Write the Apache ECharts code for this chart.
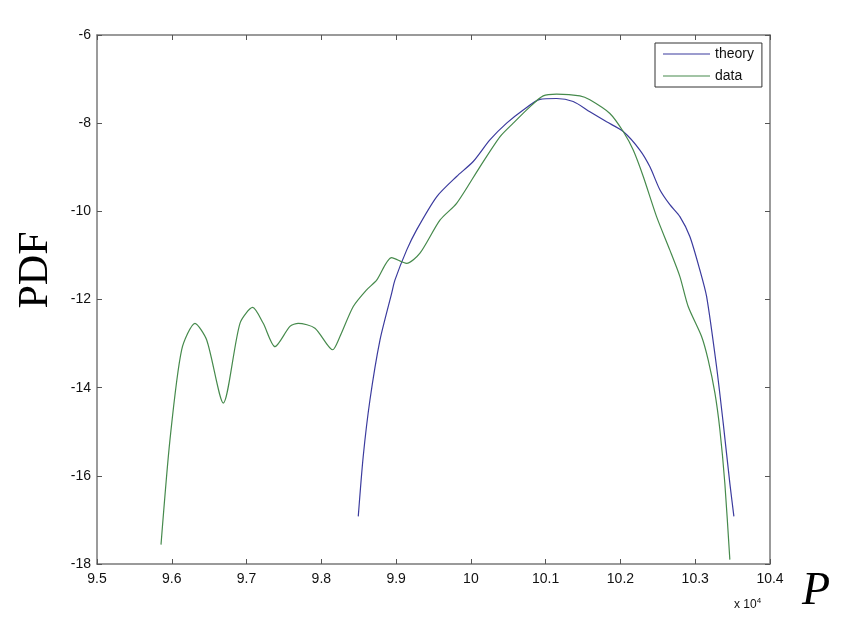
<!DOCTYPE html>
<html>
<head>
<meta charset="utf-8">
<script src="https://cdn.jsdelivr.net/npm/echarts@6/dist/echarts.min.js"></script>
<style>html,body{margin:0;padding:0;background:#fff}#c{width:847px;height:631px}</style>
</head>
<body>
<div id="c"></div>
<script>
const theoryP = [98494, 98560, 98650, 98784, 98940, 98984, 99141, 99274, 99542, 99809, 100031, 100254, 100478, 100700, 100923, 101146, 101368, 101591, 101815, 102037, 102260, 102394, 102527, 102661, 102795, 102928, 103062, 103152, 103285, 103374, 103463, 103517];
const theoryPDF = [-16.92, -15.56, -14.28, -12.92, -11.86, -11.56, -10.88, -10.42, -9.67, -9.21, -8.87, -8.38, -8.0, -7.70, -7.46, -7.44, -7.51, -7.74, -7.97, -8.19, -8.61, -8.99, -9.51, -9.85, -10.12, -10.57, -11.33, -11.93, -13.52, -14.80, -16.17, -16.92];
const dataP = [95856, 95976, 96132, 96310, 96467, 96689, 96912, 97082, 97223, 97380, 97580, 97691, 97915, 98151, 98249, 98427, 98606, 98740, 98940, 99141, 99319, 99586, 99809, 100121, 100388, 100566, 100789, 100967, 101146, 101458, 101591, 101859, 102037, 102171, 102305, 102483, 102661, 102795, 102906, 103085, 103173, 103263, 103330, 103396, 103463];
const dataPDF = [-17.56, -15.18, -13.14, -12.54, -12.92, -14.35, -12.54, -12.18, -12.54, -13.07, -12.61, -12.54, -12.65, -13.14, -12.84, -12.16, -11.78, -11.56, -11.05, -11.18, -10.95, -10.2, -9.82, -8.99, -8.31, -8.0, -7.63, -7.38, -7.34, -7.38, -7.47, -7.78, -8.19, -8.61, -9.21, -10.12, -10.88, -11.48, -12.16, -12.84, -13.37, -14.12, -14.96, -16.17, -17.9];
const seriesNames = ['theory', 'data'];
const xMin = 95000, xMax = 104000, xStep = 1000;
const yMin = -18, yMax = -6, yStep = 2;

const zip = (a, b) => a.map((v, i) => [v, b[i]]);
const frame = { show: true, lineStyle: { color: '#7a7a7a', width: 1.5 } };
const tickIn = { show: true, inside: true, length: 5, lineStyle: { color: '#555', width: 1 } };
const font = 'Liberation Sans, Arial, sans-serif';

const chart = echarts.init(document.getElementById('c'));
chart.setOption({
  animation: false,
  backgroundColor: '#fff',
  grid: { left: 97, top: 35, right: 77, bottom: 67, containLabel: false },
  legend: {
    left: 655, top: 43, orient: 'vertical',
    data: seriesNames,
    icon: 'rect', itemWidth: 47, itemHeight: 1.2, itemGap: 8,
    padding: [4, 8, 4, 8],
    borderColor: '#333', borderWidth: 1, backgroundColor: '#fff',
    textStyle: { fontFamily: font, fontSize: 14, color: '#111', padding: [0, 0, 0, 0] }
  },
  xAxis: [{
    type: 'value', min: xMin, max: xMax, interval: xStep,
    axisLine: frame, axisTick: tickIn, splitLine: { show: false },
    axisLabel: { margin: 8, fontFamily: font, fontSize: 14, color: '#111',
      formatter: v => String(Math.round(v / 100) / 100) }
  }, {
    type: 'value', position: 'top', min: xMin, max: xMax, interval: xStep,
    axisLine: frame, axisTick: tickIn, splitLine: { show: false }, axisLabel: { show: false }
  }],
  yAxis: [{
    type: 'value', min: yMin, max: yMax, interval: yStep,
    axisLine: frame, axisTick: tickIn, splitLine: { show: false },
    axisLabel: { margin: 6, fontFamily: font, fontSize: 14, color: '#111' }
  }, {
    type: 'value', position: 'right', min: yMin, max: yMax, interval: yStep,
    axisLine: frame, axisTick: tickIn, splitLine: { show: false }, axisLabel: { show: false }
  }],
  series: [{
    name: seriesNames[0], type: 'line', data: zip(theoryP, theoryPDF),
    symbol: 'none', smooth: 0.25, color: '#3b3b9e',
    lineStyle: { width: 1.2, color: '#3b3b9e' }
  }, {
    name: seriesNames[1], type: 'line', data: zip(dataP, dataPDF),
    symbol: 'none', smooth: 0.25, color: '#468a4c',
    lineStyle: { width: 1.2, color: '#468a4c' }
  }],
  graphic: [{
    type: 'text', x: 36, y: 270, rotation: Math.PI / 2,
    style: { text: 'PDF', fontFamily: 'Liberation Serif, Times New Roman, serif', fontSize: 42,
      fill: '#000', align: 'center', verticalAlign: 'middle' }
  }, {
    type: 'text', x: 816, y: 592,
    style: { text: 'P', fontFamily: 'Liberation Serif, Times New Roman, serif', fontStyle: 'italic',
      fontSize: 46, fill: '#000', align: 'center', verticalAlign: 'middle' }
  }, {
    type: 'text', x: 734, y: 605,
    style: { text: '{a|x 10}{s|4}', verticalAlign: 'middle', align: 'left',
      rich: { a: { fontFamily: font, fontSize: 12, fill: '#111' },
              s: { fontFamily: font, fontSize: 8, fill: '#111', verticalAlign: 'top', padding: [0, 0, 8, 0] } } }
  }]
});
</script>
</body>
</html>
